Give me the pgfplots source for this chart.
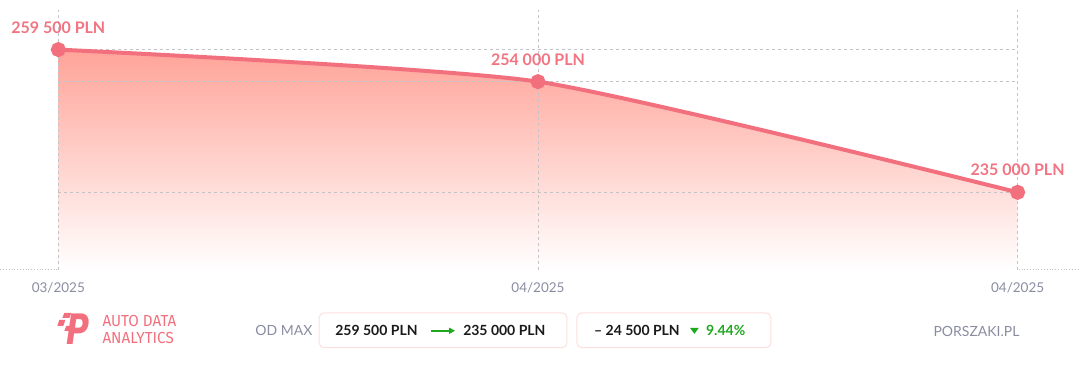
\documentclass[border=0pt]{standalone}
\usepackage{pgfplots}
\pgfplotsset{compat=1.18}
\usepackage{fontspec}
\setmainfont{Lato}
\newfontfamily\condfont{Fira Sans}
\newfontfamily\symfont{DejaVu Sans}
\usetikzlibrary{arrows.meta}
\definecolor{linecol}{HTML}{F2707E}
\definecolor{labelcol}{HTML}{F27482}
\definecolor{filltop}{HTML}{FFA398}
\definecolor{gridcol}{HTML}{C4C4C8}
\definecolor{tickcol}{HTML}{8A8DA2}
\definecolor{boxborder}{HTML}{FBE0DC}
\definecolor{greencol}{HTML}{1EA81E}
\definecolor{darktext}{HTML}{1A1A1A}
\begin{document}
\begin{tikzpicture}
\begin{axis}[
  width=1080pt, height=260pt, scale only axis,
  xmin=-0.1208, xmax=2.1292, ymin=221700, ymax=266300,
  axis x line*=bottom, axis y line=none,
  x axis line style={-, gridcol, dotted, line width=0.8pt},
  xtick={0,1,2}, xticklabels={03/2025,04/2025,04/2025}, ytick=\empty,
  major tick length=0pt,
  xticklabel style={text=tickcol, font=\fontsize{13.5}{14}\selectfont, yshift=-9pt},
  clip=false,
]
\coordinate (O) at (rel axis cs:0,0);
\addplot[draw=none, top color=filltop, bottom color=white, smooth, tension=0.35]
  coordinates {(0,259500) (1,254000) (2,235000)} \closedcycle;
% grid
\draw[gridcol, line width=0.8pt, dash pattern=on 3pt off 3pt] (axis cs:0,221700) -- (axis cs:0,266300);
\draw[gridcol, line width=0.8pt, dash pattern=on 3pt off 3pt] (axis cs:1,221700) -- (axis cs:1,266300);
\draw[gridcol, line width=0.8pt, dash pattern=on 3pt off 3pt] (axis cs:2,221700) -- (axis cs:2,266300);
\draw[gridcol, line width=0.8pt, dash pattern=on 3pt off 3pt] (axis cs:0,259500) -- (axis cs:2,259500);
\draw[gridcol, line width=0.8pt, dash pattern=on 3pt off 3pt] (axis cs:0,254000) -- (axis cs:2,254000);
\draw[gridcol, line width=0.8pt, dash pattern=on 3pt off 3pt] (axis cs:0,235000) -- (axis cs:2,235000);
\addplot[linecol, line width=4pt, smooth, tension=0.35,
  mark=*, mark size=5.5pt, mark options={fill=linecol, draw=none},
  nodes near coords, point meta=explicit symbolic,
  every node near coord/.style={font=\fontsize{16}{16}\selectfont\bfseries, text=labelcol, anchor=base, yshift=16.5pt, inner sep=0pt}]
  coordinates {(0,259500) [259 500 PLN] (1,254000) [254 000 PLN] (2,235000) [235 000 PLN]};
\end{axis}
\begin{scope}[shift={(O)}, yshift=-102pt, x=1pt, y=1pt]
\path[use as bounding box] (0,0) rectangle (1080,372);
% logo
\fill[linecol] (64,59) -- (71,59) -- (69,54) -- (62,54) -- cycle;
\fill[linecol] (59,52) -- (65,52) -- (63,46) -- (57,46) -- cycle;
\fill[linecol] (66,46) -- (71,46) -- (69,41) -- (64,41) -- cycle;
\node[anchor=base west, inner sep=0pt, text=linecol, xscale=0.75] at (66,27)
  {\symfont\fontsize{42}{42}\selectfont\bfseries\itshape P};
\node[anchor=base west, inner sep=0pt, text=linecol, xscale=0.95, align=left,
  font=\condfont\fontsize{16}{17}\selectfont] at (102,28.5)
  {AUTO DATA\\ANALYTICS};
% OD MAX
\node[anchor=base west, inner sep=0pt, text=tickcol] at (255,36)
  {\fontsize{14}{14}\selectfont OD MAX};
% boxes
\draw[boxborder, line width=1pt, rounded corners=5pt] (319,24) rectangle (567,59);
\draw[boxborder, line width=1pt, rounded corners=5pt] (577,24) rectangle (771,59);
\node[anchor=base west, inner sep=0pt, text=darktext] at (335,36)
  {\fontsize{14}{14}\selectfont\bfseries 259 500 PLN};
\draw[greencol, line width=1.5pt, -{Triangle[length=6pt,width=6pt]}] (431,41) -- (455,41);
\node[anchor=base west, inner sep=0pt, text=darktext] at (463,36)
  {\fontsize{14}{14}\selectfont\bfseries 235 000 PLN};
\node[anchor=base west, inner sep=0pt, text=darktext] at (594,36)
  {\fontsize{14}{14}\selectfont\bfseries – 24 500 PLN};
\fill[greencol] (690,44) -- (699,44) -- (694.5,38) -- cycle;
\node[anchor=base west, inner sep=0pt, text=greencol] at (706,36)
  {\fontsize{14}{14}\selectfont\bfseries 9.44\%};
% site
\node[anchor=base east, inner sep=0pt, text=tickcol] at (1020,35)
  {\fontsize{14}{14}\selectfont PORSZAKI.PL};
\end{scope}
\end{tikzpicture}
\end{document}
